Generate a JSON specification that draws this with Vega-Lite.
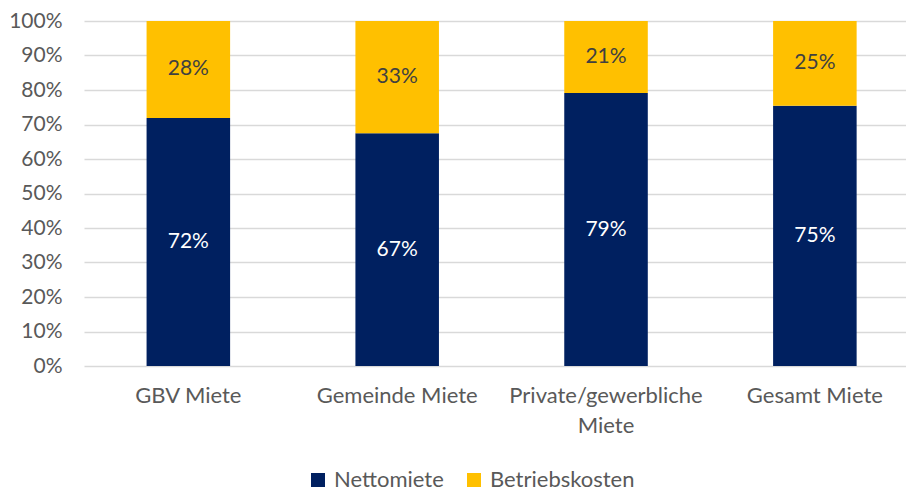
{
  "$schema": "https://vega.github.io/schema/vega-lite/v6.json",
  "width": 822,
  "height": 345,
  "autosize": {"type": "none"},
  "padding": {"left": 84, "top": 21, "right": 0, "bottom": 125},
  "background": "white",
  "config": {"view": {"stroke": null}, "font": "Lato",
    "axisY": {"title": null, "format": "%", "values": [0,0.1,0.2,0.3,0.4,0.5,0.6,0.7,0.8,0.9,1],
      "domain": false, "ticks": false, "labelFontSize": 21, "labelColor": "#595959",
      "labelOverlap": false, "labelPadding": 22, "gridColor": "#d9d9d9", "gridWidth": 1.5}},
  "data": {"values": [
    {"cat": "GBV Miete", "series": "Nettomiete", "ord": 1, "value": 0.719, "label": "72%"},
    {"cat": "GBV Miete", "series": "Betriebskosten", "ord": 2, "value": 0.281, "label": "28%"},
    {"cat": "Gemeinde Miete", "series": "Nettomiete", "ord": 1, "value": 0.675, "label": "67%"},
    {"cat": "Gemeinde Miete", "series": "Betriebskosten", "ord": 2, "value": 0.325, "label": "33%"},
    {"cat": "Private/gewerbliche Miete", "series": "Nettomiete", "ord": 1, "value": 0.791, "label": "79%"},
    {"cat": "Private/gewerbliche Miete", "series": "Betriebskosten", "ord": 2, "value": 0.209, "label": "21%"},
    {"cat": "Gesamt Miete", "series": "Nettomiete", "ord": 1, "value": 0.754, "label": "75%"},
    {"cat": "Gesamt Miete", "series": "Betriebskosten", "ord": 2, "value": 0.246, "label": "25%"}
  ]},
  "transform": [
    {"stack": "value", "groupby": ["cat"], "sort": [{"field": "ord", "order": "ascending"}], "as": ["y0", "y1"]},
    {"calculate": "(datum.y0 + datum.y1) / 2", "as": "mid"}
  ],
  "encoding": {
    "x": {
      "field": "cat", "type": "nominal", "sort": null,
      "scale": {"paddingInner": 0.6, "paddingOuter": 0.268, "align": 0.559},
      "axis": {
        "title": null, "domain": false, "ticks": false, "labelAngle": 0,
        "labelFontSize": 22, "labelColor": "#595959", "labelPadding": 19,
        "labelLineHeight": 30, "labelBaseline": "top", "labelOverlap": false, "labelLimit": 0,
        "labelExpr": "datum.value == 'Private/gewerbliche Miete' ? ['Private/gewerbliche', 'Miete'] : datum.value"
      }
    }
  },
  "layer": [
    {
      "mark": {"type": "bar"},
      "encoding": {
        "y": {"field": "y0", "type": "quantitative", "scale": {"domain": [0, 1]},
          "axis": {"values": [0,0.1,0.2,0.3,0.4,0.5,0.6,0.7,0.8,0.9,1]}},
        "y2": {"field": "y1"},
        "color": {"field": "series", "type": "nominal",
          "scale": {"domain": ["Nettomiete", "Betriebskosten"], "range": ["#002060", "#FFC000"]},
          "legend": {"title": null, "orient": "none", "direction": "horizontal",
            "legendX": 223, "legendY": 448, "symbolType": "square", "symbolSize": 196,
            "symbolStrokeWidth": 0, "symbolOpacity": 1,
            "labelFontSize": 22, "labelColor": "#595959", "columnPadding": 19, "labelOffset": 5}}
      }
    },
    {
      "mark": {"type": "text", "fontSize": 21, "baseline": "middle"},
      "encoding": {
        "y": {"field": "mid", "type": "quantitative",
          "axis": {"values": [0,0.1,0.2,0.3,0.4,0.5,0.6,0.7,0.8,0.9,1]}},
        "text": {"field": "label"},
        "color": {"condition": {"test": "datum.series == 'Nettomiete'", "value": "white"}, "value": "#404040"}
      }
    }
  ]
}
